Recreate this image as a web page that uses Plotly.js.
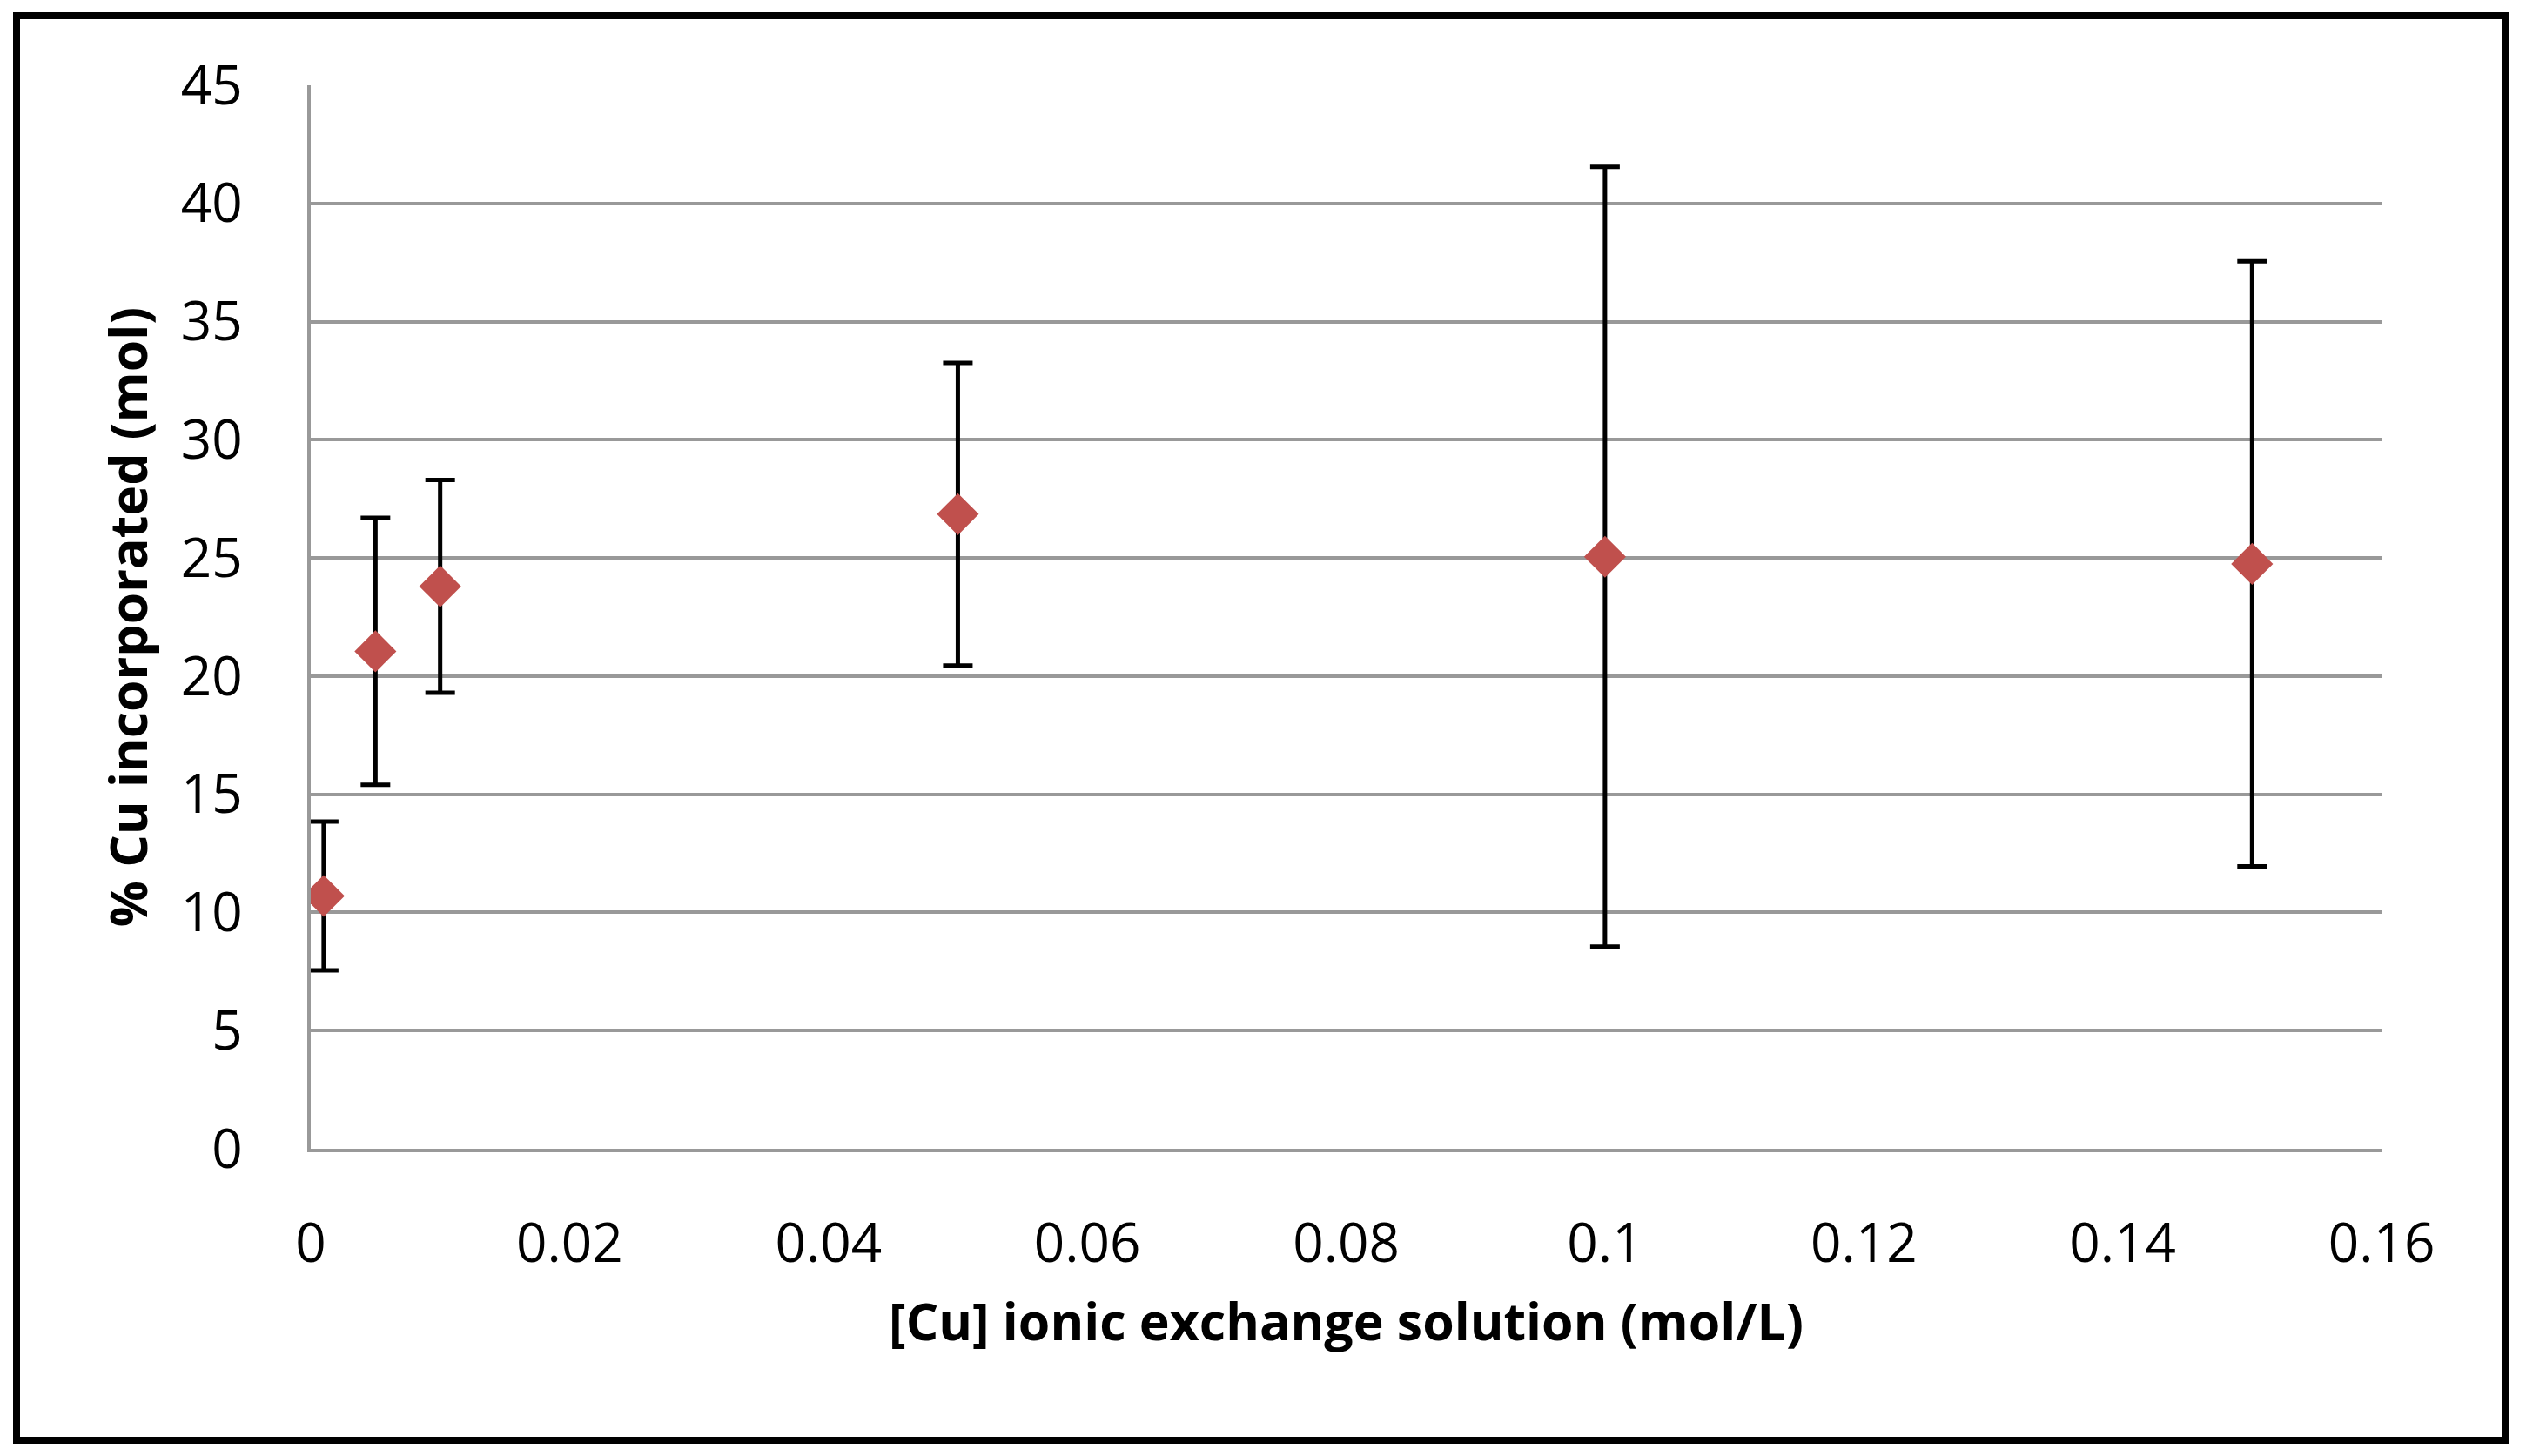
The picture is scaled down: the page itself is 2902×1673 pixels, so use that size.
<!DOCTYPE html>
<html>
<head>
<meta charset="utf-8">
<script src="https://cdn.plot.ly/plotly-3.0.1.min.js"></script>
<style>
  html, body { margin: 0; padding: 0; background: #ffffff; }
  #wrap { position: relative; width: 2902px; height: 1673px; }
  #chart { position: absolute; left: 0; top: 0; width: 2902px; height: 1673px; }
  #frame { position: absolute; left: 15px; top: 14px; width: 2852px; height: 1629px;
           border: 8px solid #000000; pointer-events: none; }
</style>
</head>
<body>
<div id="wrap">
  <div id="chart"></div>
  <div id="frame"></div>
</div>
<script>
// Data
const cuConcentration = [0.001, 0.005, 0.01, 0.05, 0.1, 0.15];          // mol/L
const cuIncorporated  = [10.7, 21.05, 23.8, 26.85, 25.05, 24.75];        // % (mol)
const cuError         = [3.15, 5.65, 4.5, 6.4, 16.5, 12.8];              // ± error

const xTickVals = [0, 0.02, 0.04, 0.06, 0.08, 0.1, 0.12, 0.14, 0.16];
const xTickText = ["0", "0.02", "0.04", "0.06", "0.08", "0.1", "0.12", "0.14", "0.16"];
const yTickVals = [0, 5, 10, 15, 20, 25, 30, 35, 40, 45];
const yTickText = ["0", "5", "10", "15", "20", "25", "30", "35", "40", "45"];

const xTitle = "[Cu] ionic exchange solution (mol/L)";
const yTitle = "% Cu incorporated (mol)";

const FONT = "Open Sans, Noto Sans, DejaVu Sans, sans-serif";
const GRID = "#999999";

const trace = {
  type: "scatter",
  mode: "markers",
  x: cuConcentration,
  y: cuIncorporated,
  marker: { symbol: "diamond", size: 37, color: "#c0504d", line: { width: 0 } },
  error_y: { type: "data", array: cuError, visible: true, color: "#000000", thickness: 5, width: 17 },
  showlegend: false,
  hoverinfo: "x+y"
};

const layout = {
  width: 2902,
  height: 1673,
  margin: { l: 357, r: 166, t: 98, b: 353, pad: 0 },
  paper_bgcolor: "#ffffff",
  plot_bgcolor: "#ffffff",
  font: { family: FONT, color: "#000000", size: 62 },
  showlegend: false,
  xaxis: {
    range: [0, 0.16],
    tickmode: "array",
    tickvals: xTickVals,
    ticktext: xTickText,
    showgrid: false,
    zeroline: false,
    showline: true,
    linecolor: GRID,
    linewidth: 4,
    ticks: "",
    ticklabelstandoff: 52,
    tickfont: { family: FONT, size: 62, color: "#000000" },
    title: { text: xTitle, font: { family: FONT, size: 59, color: "#000000", weight: "bold" }, standoff: 32 }
  },
  yaxis: {
    range: [0, 45],
    tickmode: "array",
    tickvals: yTickVals,
    ticktext: yTickText,
    showgrid: true,
    gridcolor: GRID,
    gridwidth: 4,
    zeroline: false,
    showline: true,
    linecolor: GRID,
    linewidth: 4,
    ticks: "",
    ticklabelstandoff: 62,
    tickfont: { family: FONT, size: 62, color: "#000000" },
    title: { text: yTitle, font: { family: FONT, size: 59, color: "#000000", weight: "bold" }, standoff: 20 }
  }
};

Plotly.newPlot("chart", [trace], layout, { displayModeBar: false, staticPlot: true });
</script>
</body>
</html>
